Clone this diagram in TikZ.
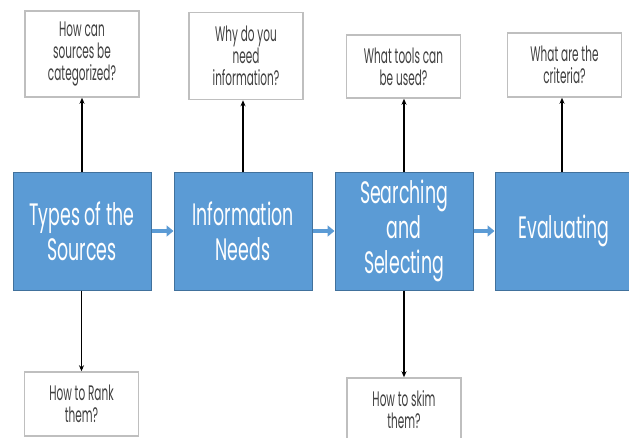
\documentclass[tikz,border=0pt]{standalone}
\usepackage{fontspec}
\setmainfont{Poppins}
\newfontfamily\bigfont[FakeStretch=0.56]{Poppins}
\newfontfamily\smallfont[FakeStretch=0.5]{Poppins}
\usetikzlibrary{arrows.meta}
\definecolor{boxblue}{HTML}{5B9BD5}
\definecolor{boxedge}{HTML}{41719C}
\definecolor{greyedge}{HTML}{BFBFBF}
\tikzset{
  bluebox/.style={draw=boxedge, line width=1pt, fill=boxblue, text=white,
    minimum width=138pt, minimum height=118pt, align=center, inner sep=2pt,
    font=\bigfont\fontsize{31}{35}\selectfont},
  qbox/.style={draw=greyedge, line width=1.5pt, fill=white, text=black!75,
    minimum width=114pt, align=center, inner sep=2pt,
    font=\smallfont\fontsize{21}{22}\selectfont},
  qarrow/.style={-{Stealth[length=6pt,width=5pt]}, line width=1.2pt, black},
  flowarrow/.style={-{Triangle[length=7pt,width=11pt]}, line width=4.5pt, boxblue}
}
\begin{document}
\begin{tikzpicture}[x=1pt,y=-1pt]
\useasboundingbox (0,0) rectangle (629,437);
\clip (0,0) rectangle (629,437);
\fill[white] (0,0) rectangle (629,437);
% blue boxes
\node[bluebox] (b1) at (82,231) {Types of the\\Sources};
\node[bluebox] (b2) at (243,231) {Information\\Needs};
\node[bluebox] (b3) at (404,231) {Searching\\and\\Selecting};
\node[bluebox] (b4) at (564,231) {Evaluating};
% question boxes
\node[qbox, minimum height=86pt] (q1) at (82,54) {How can\\sources be\\categorized?};
\node[qbox, minimum height=87pt] (q2) at (246,56) {Why do you\\need\\information?};
\node[qbox, minimum height=63pt] (q3) at (403.5,66.5) {What tools can\\be used?};
\node[qbox, minimum height=64pt] (q4) at (564.5,65) {What are the\\criteria?};
\node[qbox, minimum height=64pt] (q5) at (81.5,404) {How to Rank\\them?};
\node[qbox, minimum height=64pt] (q6) at (404,410) {How to skim\\them?};
% connectors
\draw[qarrow] (b1.north -| q1.south) -- (q1.south);
\draw[qarrow] (b2.north) -- (b2.north |- q2.south);
\draw[qarrow] (b3.north) -- (b3.north |- q3.south);
\draw[qarrow] (b4.north -| 562,0) -- (q4.south -| 562,0);
\draw[qarrow] (b1.south -| q5.north) -- (q5.north);
\draw[qarrow] (b3.south) -- (q6.north);
\draw[flowarrow] (b1.east) -- (b2.west);
\draw[flowarrow] (b2.east) -- (b3.west);
\draw[flowarrow] (b3.east) -- (b4.west);
\end{tikzpicture}
\end{document}
